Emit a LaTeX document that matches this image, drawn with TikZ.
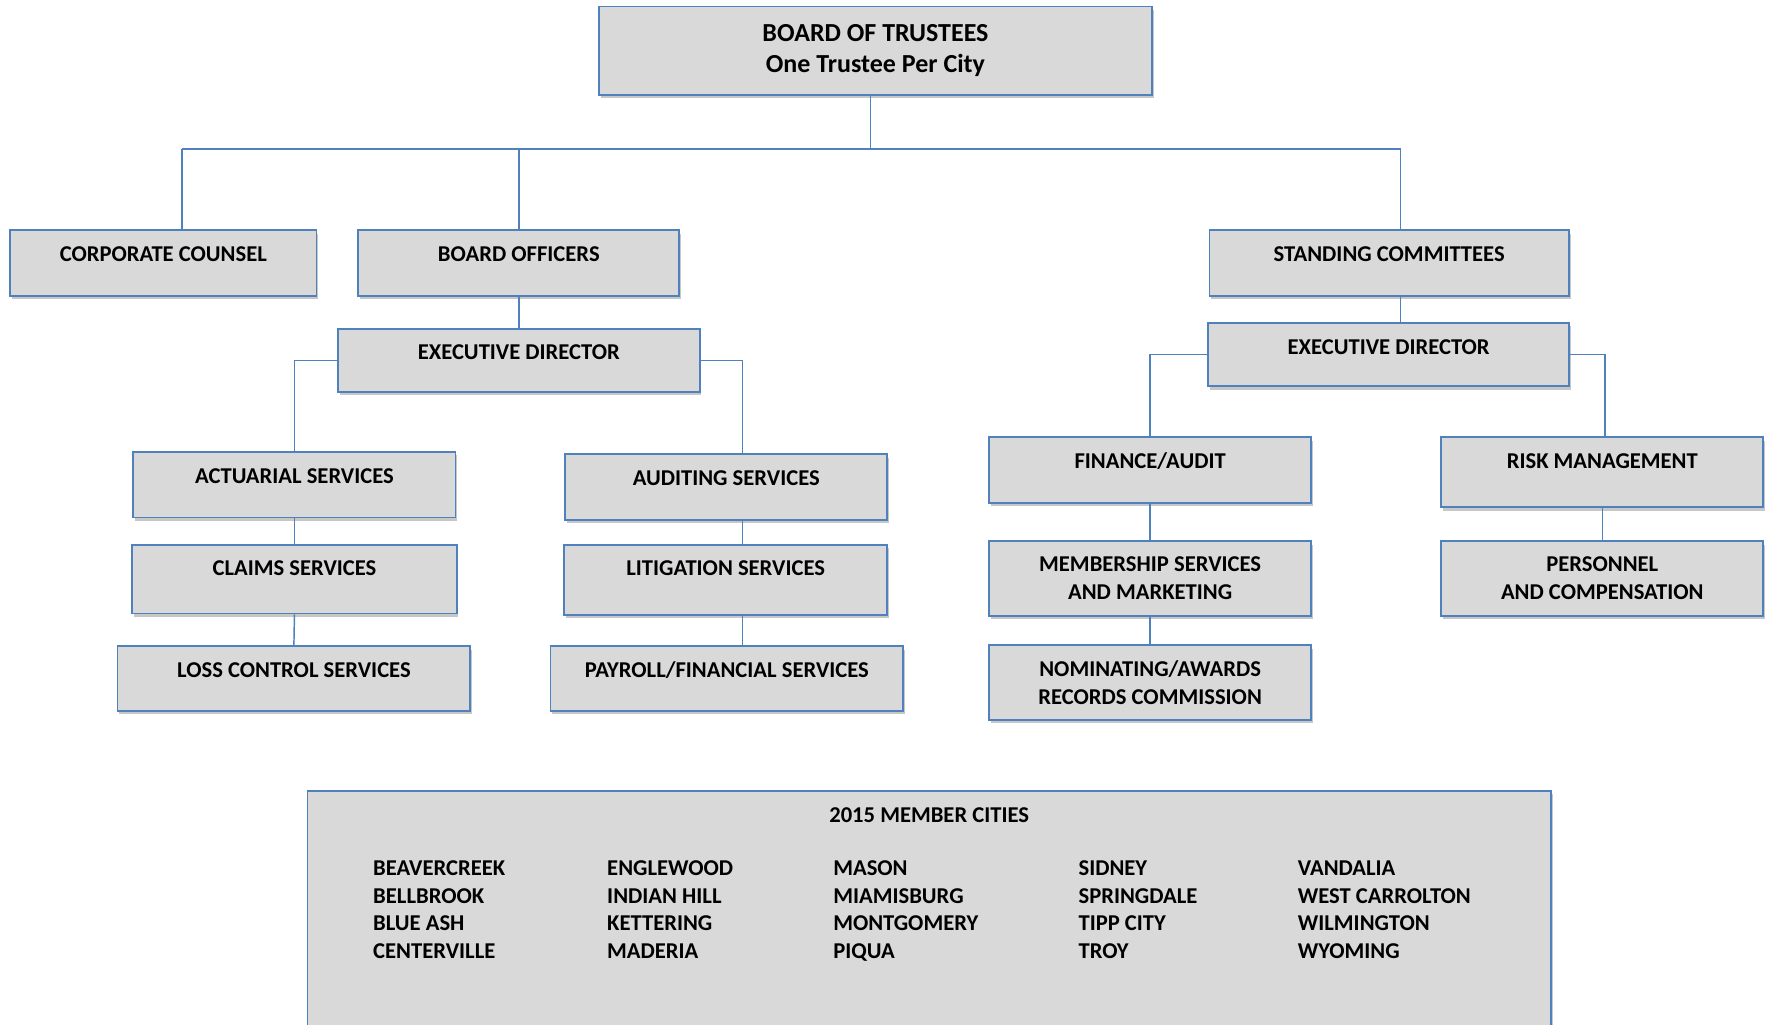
\documentclass[tikz,border=0pt]{standalone}
\usepackage{fontspec}
\setmainfont{Carlito}
\usetikzlibrary{shadows}

\definecolor{lineblue}{HTML}{4F81BD}
\definecolor{boxgray}{HTML}{D9D9D9}

\newcommand{\boxfont}{\fontsize{20}{25}\selectfont\bfseries}
\newcommand{\topfont}{\fontsize{23}{28}\selectfont\bfseries}

\tikzset{
  boxbase/.style = {draw=lineblue, fill=boxgray, line width=1.6pt, anchor=north,
                    font=\boxfont, inner xsep=0pt,
                    drop shadow={shadow xshift=1.5pt, shadow yshift=-3pt, fill=black, opacity=0.22}},
  box/.style     = {boxbase, inner ysep=14.5pt, text height=13pt, text depth=#1},
  box/.default   = 16pt,
  tallbox/.style = {boxbase, align=center, inner ysep=0pt, minimum height=#1},
  tallbox/.default = 66pt,
  link/.style    = {draw=lineblue, line width=1.3pt},
  city/.style    = {anchor=north west, inner sep=0pt, align=left, font=\fontsize{20}{24.3}\selectfont\bfseries}
}

\begin{document}
\begin{tikzpicture}[x=1pt, y=-1pt]
  \useasboundingbox (0,0) rectangle (1565,906);

  % top level
  \node[tallbox=78pt, minimum width=489pt, font=\topfont] (bt) at (774.5,5) {BOARD OF TRUSTEES\\One Trustee Per City};

  \node[box, minimum width=271pt] (cc) at (144.5,203) {CORPORATE COUNSEL};
  \node[box, minimum width=284pt] (bo) at (459,203) {BOARD OFFICERS};
  \node[box, minimum width=318pt] (sc) at (1229,203) {STANDING COMMITTEES};

  % left branch
  \node[box=14pt, minimum width=320pt] (ed1) at (459,290) {EXECUTIVE DIRECTOR};
  \node[box, minimum width=285pt] (as) at (260.5,399) {ACTUARIAL SERVICES};
  \node[box=19pt, minimum width=287pt] (cs) at (260.5,481) {CLAIMS SERVICES};
  \node[box=15pt, minimum width=312pt] (lc) at (260,571) {LOSS CONTROL SERVICES};
  \node[box, minimum width=285pt] (aud) at (642.5,401) {AUDITING SERVICES};
  \node[box=20pt, minimum width=286pt] (lit) at (642,481) {LITIGATION SERVICES};
  \node[box=15pt, minimum width=312pt] (pay) at (643,571) {PAYROLL/FINANCIAL SERVICES};

  % right branch
  \node[box=14pt, minimum width=319pt] (ed2) at (1228.5,285) {EXECUTIVE DIRECTOR};
  \node[box, minimum width=285pt] (fa) at (1017.5,386) {FINANCE/AUDIT};
  \node[tallbox, minimum width=285pt] (ms) at (1017.5,478) {MEMBERSHIP SERVICES\\AND MARKETING};
  \node[tallbox, minimum width=285pt] (nr) at (1017.5,570) {NOMINATING/AWARDS\\RECORDS COMMISSION};
  \node[box=20pt, minimum width=285pt] (rm) at (1417.5,386) {RISK MANAGEMENT};
  \node[tallbox, minimum width=285pt] (pc) at (1417.5,478) {PERSONNEL\\AND COMPENSATION};

  % member cities
  \node[box=174pt, minimum width=1100pt] (mc) at (822,699) {2015 MEMBER CITIES};
  \node[city] (c1) at (330,761.5) {BEAVERCREEK\\BELLBROOK\\BLUE ASH\\CENTERVILLE};
  \node[city] (c2) at (537,761.5) {ENGLEWOOD\\INDIAN HILL\\KETTERING\\MADERIA};
  \node[city] (c3) at (737,761.5) {MASON\\MIAMISBURG\\MONTGOMERY\\PIQUA};
  \node[city] (c4) at (954,761.5) {SIDNEY\\SPRINGDALE\\TIPP CITY\\TROY};
  \node[city] (c5) at (1148,761.5) {VANDALIA\\WEST CARROLTON\\WILMINGTON\\WYOMING};

  % connectors
  \coordinate (busM) at (770,132);
  \coordinate (busL) at (161,132);
  \coordinate (busR) at (1239,132);

  \draw[link] (bt.south -| busM) -- (busM);
  \draw[link] (busL) -- (busR);
  \draw[link] (busL) -- (cc.north -| busL);
  \draw[link] (bo.north |- busL) -- (bo.north);
  \draw[link] (busR) -- (sc.north -| busR);

  \draw[link] (bo.south) -- (ed1.north);
  \draw[link] (ed1.west) -| (as.north);
  \draw[link] (ed1.east) -| ([xshift=14.5pt]aud.north);
  \draw[link] (as.south) -- (cs.north);
  \draw[link] (cs.south) -- (lc.north);
  \draw[link] ([xshift=14.5pt]aud.south) -- ([xshift=14.5pt]aud.south |- lit.north);
  \draw[link] ([xshift=14.5pt]aud.south |- lit.south) -- ([xshift=14.5pt]aud.south |- pay.north);

  \draw[link] (sc.south -| busR) -- (ed2.north -| busR);
  \draw[link] (ed2.west) -| (fa.north);
  \draw[link] (ed2.east) -| ([xshift=2.5pt]rm.north);
  \draw[link] (fa.south) -- (ms.north);
  \draw[link] (ms.south) -- (nr.north);
  \draw[link] (rm.south) -- (pc.north);
\end{tikzpicture}
\end{document}
